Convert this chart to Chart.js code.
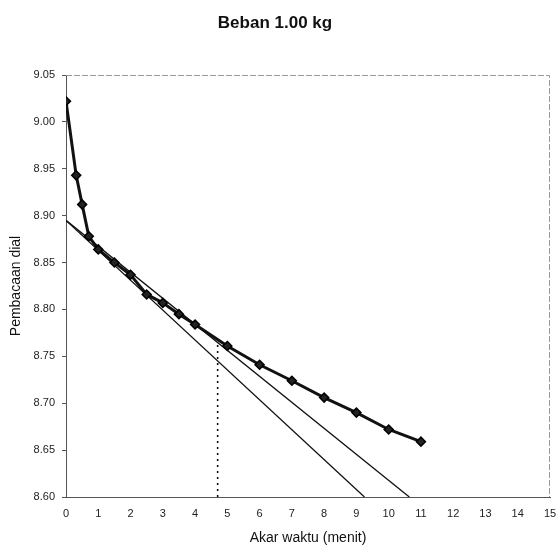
<!DOCTYPE html>
<html>
<head>
<meta charset="utf-8">
<script src="https://cdn.jsdelivr.net/npm/chart.js@4.4.1/dist/chart.umd.min.js"></script>
<style>
  html, body { margin: 0; padding: 0; background: #fff; }
  #wrap { width: 559px; height: 553px; }
</style>
</head>
<body>
<div id="wrap"><canvas id="grafik"></canvas></div>
<script>
// Akar waktu (menit) dan pembacaan dial
const akarWaktu = [0, 0.316, 0.5, 0.707, 1, 1.5, 2, 2.5, 3, 3.5, 4, 5, 6, 7, 8, 9, 10, 11];
const bacaanDial = [9.022, 8.943, 8.912, 8.878, 8.864, 8.850, 8.837, 8.816, 8.807, 8.795, 8.784, 8.761, 8.741, 8.724, 8.706, 8.690, 8.672, 8.659];

// garis bantu (metode Taylor)
const garisAwalX = [0, 9.25];
const garisAwalY = [8.895, 8.60];
const garis115X = [0, 10.64];
const garis115Y = [8.895, 8.60];
const t90X = [4.7, 4.7];
const t90Y = [8.60, 8.765];

const toPoints = (xs, ys) => xs.map((x, i) => ({ x: x, y: ys[i] }));

// garis tepi atas dan kanan plot
const plotBorder = {
  id: 'plotBorder',
  beforeDatasetsDraw(chart) {
    const { ctx, chartArea: a } = chart;
    ctx.save();
    ctx.strokeStyle = '#9a9a9a';
    ctx.lineWidth = 1;
    ctx.setLineDash([6, 2]);
    ctx.beginPath();
    ctx.moveTo(a.left, a.top + 0.5);
    ctx.lineTo(a.right - 0.5, a.top + 0.5);
    ctx.lineTo(a.right - 0.5, a.bottom);
    ctx.stroke();
    ctx.restore();
  }
};

new Chart(document.getElementById('grafik'), {
  type: 'scatter',
  data: {
    datasets: [
      {
        label: 'Pembacaan dial',
        data: toPoints(akarWaktu, bacaanDial),
        showLine: true,
        borderColor: '#111',
        borderWidth: 3,
        pointStyle: 'rectRot',
        pointRadius: 4.5,
        pointBackgroundColor: '#222',
        pointBorderColor: '#000',
        pointBorderWidth: 1.5,
        order: 1
      },
      {
        label: 'Garis awal',
        data: toPoints(garisAwalX, garisAwalY),
        showLine: true,
        borderColor: '#111',
        borderWidth: 1.3,
        pointRadius: 0,
        order: 2
      },
      {
        label: 'Garis 1.15',
        data: toPoints(garis115X, garis115Y),
        showLine: true,
        borderColor: '#111',
        borderWidth: 1.3,
        pointRadius: 0,
        order: 2
      },
      {
        label: 't90',
        data: toPoints(t90X, t90Y),
        showLine: true,
        borderColor: '#111',
        borderWidth: 1.6,
        borderDash: [2, 4],
        pointRadius: 0,
        order: 2
      }
    ]
  },
  options: {
    responsive: true,
    maintainAspectRatio: false,
    animation: false,
    layout: { padding: { left: 0, right: 9, top: 0, bottom: 0 } },
    plugins: {
      legend: { display: false },
      tooltip: { enabled: false },
      title: {
        display: true,
        text: 'Beban 1.00 kg',
        color: '#111',
        font: { family: 'Liberation Sans, Arial, sans-serif', size: 17, weight: 'bold' },
        padding: { top: 13, bottom: 41.6 }
      }
    },
    scales: {
      x: {
        type: 'linear',
        min: 0,
        max: 15,
        afterFit: (scale) => { scale.height = 56; },
        ticks: {
          stepSize: 1,
          padding: 0,
          color: '#222',
          font: { family: 'Liberation Sans, Arial, sans-serif', size: 11 }
        },
        grid: { drawOnChartArea: false, drawTicks: true, tickLength: 10, tickColor: 'rgba(0,0,0,0)' },
        border: { display: true, color: '#555', width: 1 },
        title: {
          display: true,
          text: 'Akar waktu (menit)',
          color: '#111',
          font: { family: 'Liberation Sans, Arial, sans-serif', size: 14 },
          padding: { top: 0, bottom: 6.5 }
        }
      },
      y: {
        type: 'linear',
        min: 8.60,
        max: 9.05,
        afterFit: (scale) => { scale.width = 66; },
        ticks: {
          stepSize: 0.05,
          padding: 7,
          color: '#222',
          font: { family: 'Liberation Sans, Arial, sans-serif', size: 11 },
          callback: (v) => v.toFixed(2)
        },
        grid: { drawOnChartArea: false, drawTicks: true, tickLength: 4, color: '#555' },
        border: { display: true, color: '#555', width: 1 },
        title: {
          display: true,
          text: 'Pembacaan dial',
          color: '#111',
          font: { family: 'Liberation Sans, Arial, sans-serif', size: 14 },
          padding: { top: 8, bottom: 0 }
        }
      }
    }
  },
  plugins: [plotBorder]
});
</script>
</body>
</html>
